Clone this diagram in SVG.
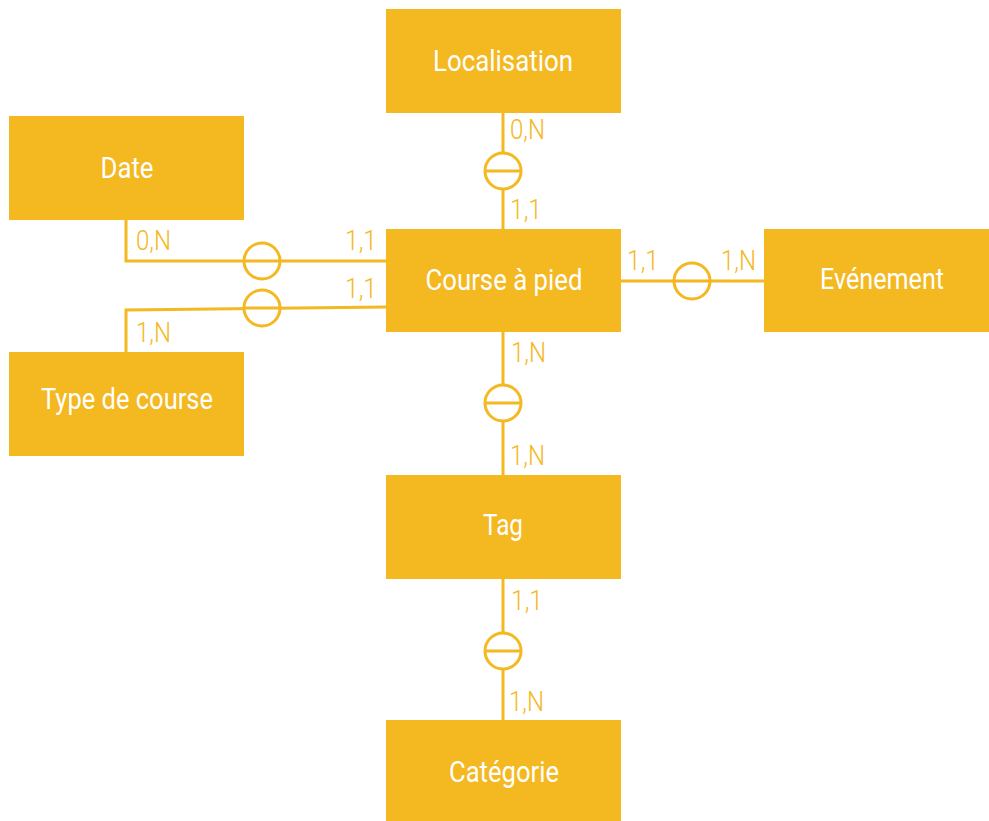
<svg xmlns="http://www.w3.org/2000/svg" width="989" height="821" viewBox="0 0 989 821">
  <style>
    .box { fill: #F4B821; }
    .name { fill: #FFFFFF; font-family: "Roboto", "Liberation Sans", sans-serif; font-size: 29px; text-anchor: middle; }
    .link { fill: none; stroke: #F4B821; stroke-width: 3; }
    .card { fill: #F4B821; font-family: "Roboto", "Liberation Sans", sans-serif; font-size: 27px; font-weight: 300; }
  </style>
  <defs>
    <!-- optionality symbol: circle crossed by a horizontal bar -->
    <g id="opt">
      <circle cx="0" cy="0" r="18" fill="#FFFFFF" stroke="#F4B821" stroke-width="3"/>
      <line x1="-18" y1="0" x2="18" y2="0" stroke="#F4B821" stroke-width="3"/>
    </g>
  </defs>

  <g id="connectors">
    <!-- Localisation - Course à pied -->
    <line class="link" x1="503" y1="113" x2="503" y2="229"/>
    <use href="#opt" x="503" y="171"/>
    <text class="card" x="510" y="139" textLength="35" lengthAdjust="spacingAndGlyphs">0,N</text>
    <text class="card" x="510" y="219" textLength="32" lengthAdjust="spacingAndGlyphs">1,1</text>

    <!-- Date - Course à pied -->
    <polyline class="link" points="126,220 126,261 386,261"/>
    <use href="#opt" x="262" y="261"/>
    <text class="card" x="136" y="250" textLength="35" lengthAdjust="spacingAndGlyphs">0,N</text>
    <text class="card" x="345" y="250" textLength="32" lengthAdjust="spacingAndGlyphs">1,1</text>

    <!-- Type de course - Course à pied -->
    <polyline class="link" points="126,352 126,310 386,307"/>
    <use href="#opt" x="262" y="308"/>
    <text class="card" x="345" y="298" textLength="32" lengthAdjust="spacingAndGlyphs">1,1</text>
    <text class="card" x="136" y="342" textLength="35" lengthAdjust="spacingAndGlyphs">1,N</text>

    <!-- Course à pied - Evénement -->
    <line class="link" x1="620" y1="281" x2="764" y2="281"/>
    <use href="#opt" x="692" y="281"/>
    <text class="card" x="627" y="270" textLength="32" lengthAdjust="spacingAndGlyphs">1,1</text>
    <text class="card" x="721" y="270" textLength="35" lengthAdjust="spacingAndGlyphs">1,N</text>

    <!-- Course à pied - Tag -->
    <line class="link" x1="503" y1="332" x2="503" y2="475"/>
    <use href="#opt" x="503" y="403"/>
    <text class="card" x="511" y="362" textLength="35" lengthAdjust="spacingAndGlyphs">1,N</text>
    <text class="card" x="510" y="465" textLength="35" lengthAdjust="spacingAndGlyphs">1,N</text>

    <!-- Tag - Catégorie -->
    <line class="link" x1="503" y1="579" x2="503" y2="720"/>
    <use href="#opt" x="503" y="651"/>
    <text class="card" x="511" y="610" textLength="32" lengthAdjust="spacingAndGlyphs">1,1</text>
    <text class="card" x="509" y="711" textLength="35" lengthAdjust="spacingAndGlyphs">1,N</text>
  </g>

  <g id="localisation">
    <rect class="box" x="386" y="9" width="235" height="104"/>
    <text class="name" x="503" y="71" textLength="140" lengthAdjust="spacingAndGlyphs">Localisation</text>
  </g>
  <g id="date">
    <rect class="box" x="9" y="116" width="235" height="104"/>
    <text class="name" x="127" y="178" textLength="53" lengthAdjust="spacingAndGlyphs">Date</text>
  </g>
  <g id="course-a-pied">
    <rect class="box" x="386" y="229" width="235" height="103"/>
    <text class="name" x="504" y="290" textLength="157" lengthAdjust="spacingAndGlyphs">Course à pied</text>
  </g>
  <g id="evenement">
    <rect class="box" x="764" y="229" width="225" height="103"/>
    <text class="name" x="882" y="289" textLength="124" lengthAdjust="spacingAndGlyphs">Evénement</text>
  </g>
  <g id="type-de-course">
    <rect class="box" x="9" y="352" width="235" height="104"/>
    <text class="name" x="127" y="409" textLength="172" lengthAdjust="spacingAndGlyphs">Type de course</text>
  </g>
  <g id="tag">
    <rect class="box" x="386" y="475" width="235" height="104"/>
    <text class="name" x="503" y="535" textLength="40" lengthAdjust="spacingAndGlyphs">Tag</text>
  </g>
  <g id="categorie">
    <rect class="box" x="386" y="720" width="235" height="101"/>
    <text class="name" x="504" y="782" textLength="110" lengthAdjust="spacingAndGlyphs">Catégorie</text>
  </g>
</svg>
